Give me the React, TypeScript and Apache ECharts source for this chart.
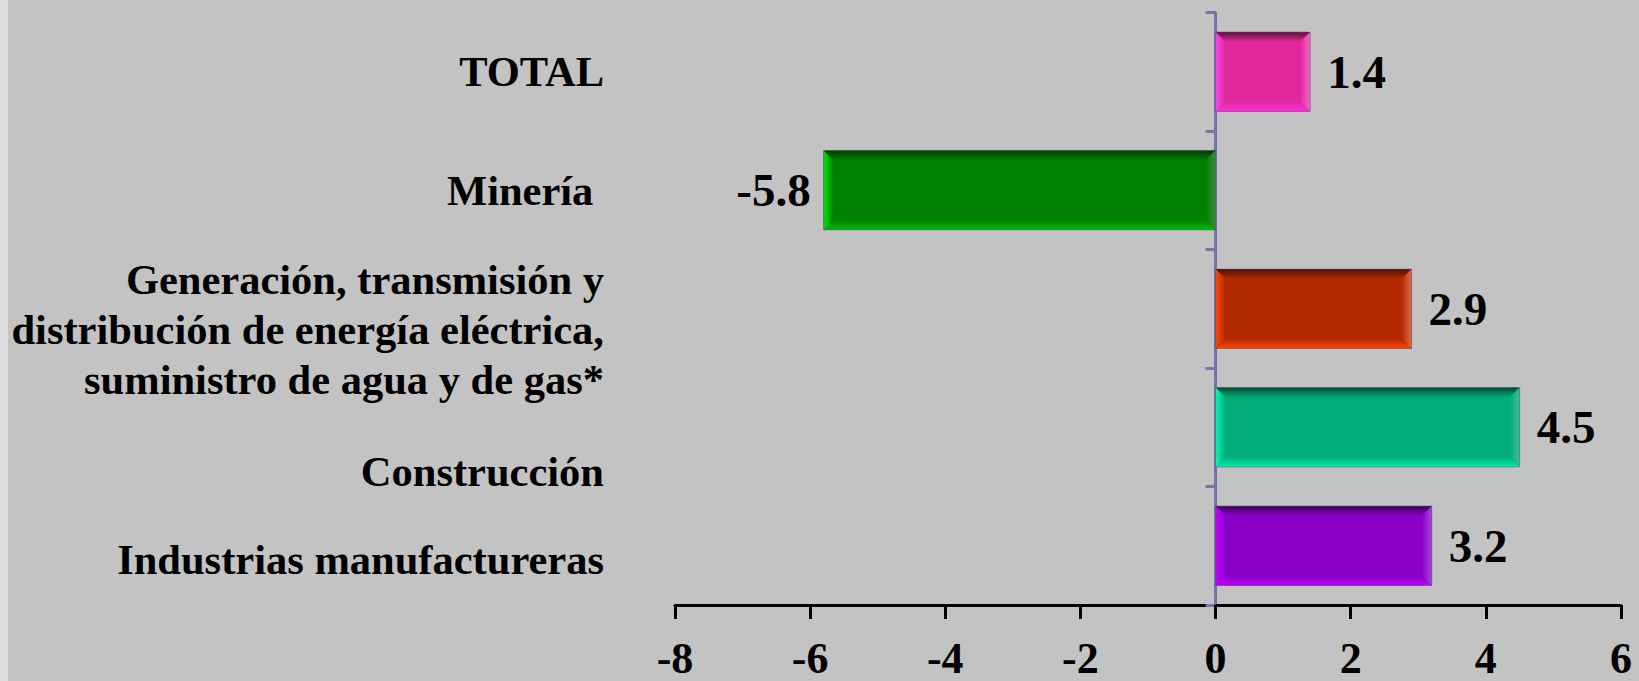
import React, { useEffect, useRef } from "react";
import * as echarts from "echarts";

// Bottom-to-top order (ECharts category axis grows upward)
const categories = [
  "Industrias manufactureras",
  "Construcción",
  "Generación, transmisión y\ndistribución de energía eléctrica,\nsuministro de agua y de gas*",
  "Minería ",
  "TOTAL",
];
const values = [3.2, 4.5, 2.9, -5.8, 1.4];
const xTicks = { min: -8, max: 6, interval: 2 };

const barColors = [
  { main: "#8a00c8", top: "#3c0055", left: "#c400ff", bottom: "#c000ff", right: "#a848d8" },
  { main: "#00ad78", top: "#004a33", left: "#00ffb8", bottom: "#00f0b0", right: "#40c094" },
  { main: "#b32a00", top: "#4a1000", left: "#ff4a00", bottom: "#ff4400", right: "#d8704c" },
  { main: "#008000", top: "#003a00", left: "#00e400", bottom: "#00c000", right: "#3c8a3c" },
  { main: "#e0289a", top: "#5e1040", left: "#ff44f0", bottom: "#ff30e0", right: "#f068c4" },
];
// downward offset of each category label (px) relative to its band centre
const labelShift = [14, 44, 21, 0, 0];

const SERIF = '"Liberation Serif", "Times New Roman", serif';

export default function App() {
  const ref = useRef<HTMLDivElement>(null);
  useEffect(() => {
    document.body.style.margin = "0";
    const chart = echarts.init(ref.current!, null, { renderer: "svg" });
    const grad = (c1: string, c2: string, horiz: boolean) =>
      new echarts.graphic.LinearGradient(0, 0, horiz ? 1 : 0, horiz ? 0 : 1, [
        { offset: 0, color: c1 },
        { offset: 1, color: c2 },
      ]);
    const rich: any = {
      t: { color: "#000", fontSize: 42.5, fontWeight: "bold", fontFamily: SERIF, lineHeight: 50, align: "right" },
    };
    labelShift.forEach((s, i) => {
      if (s > 0) rich["g" + i] = { fontSize: 10, lineHeight: 2 * s, align: "right" };
    });
    chart.setOption({
      animation: false,
      backgroundColor: "#c3c3c3",
      graphic: [
        { type: "rect", left: 0, top: 0, shape: { x: 0, y: 0, width: 8, height: 681 }, style: { fill: "#dddddd" }, silent: true },
      ],
      grid: { left: 675, right: 18, top: 12.5, bottom: 76, containLabel: false },
      xAxis: {
        type: "value",
        min: xTicks.min,
        max: xTicks.max,
        interval: xTicks.interval,
        splitLine: { show: false },
        axisLine: { show: true, lineStyle: { color: "#000", width: 3 } },
        axisTick: { show: true, length: 14, lineStyle: { color: "#000", width: 3 } },
        axisLabel: { color: "#000", fontSize: 44, lineHeight: 44, fontWeight: "bold", fontFamily: SERIF, margin: 31 },
      },
      yAxis: [
        {
          type: "category",
          data: categories,
          axisLine: { show: false, onZero: false },
          axisTick: { show: false },
          axisLabel: {
            color: "#000",
            fontSize: 42.5,
            fontWeight: "bold",
            fontFamily: SERIF,
            lineHeight: 50,
            margin: 71,
            align: "right",
            formatter: (val: string, idx: number) => {
              const lines = val.split("\n").map((l) => `{t|${l}}`).join("\n");
              const s = labelShift[idx];
              if (s > 0) return `{g${idx}| }\n${lines}`;
              return lines;
            },
            rich,
          },
        },
        {
          type: "category",
          position: "left",
          data: categories,
          axisLine: { show: true, onZero: true, lineStyle: { color: "#7474aa", width: 3 } },
          axisTick: { show: true, length: 10, lineStyle: { color: "#7474aa", width: 3 } },
          axisLabel: { show: false },
        },
      ],
      series: [
        {
          type: "custom",
          xAxisIndex: 0,
          yAxisIndex: 0,
          encode: { x: 0, y: 1 },
          data: values.map((v, i) => [v, i]),
          z: 2,
          renderItem: (params: any, api: any) => {
            const v = api.value(0);
            const c = api.value(1);
            const p0 = api.coord([0, c]);
            const p1 = api.coord([v, c]);
            const h = api.size([0, 1])[1] * 0.67;
            const x0 = Math.min(p0[0], p1[0]);
            const x1 = Math.max(p0[0], p1[0]);
            const y0 = p0[1] - h / 2;
            const y1 = p0[1] + h / 2;
            const b = 10;
            const col = barColors[params.dataIndex];
            return {
              type: "group",
              children: [
                { type: "rect", shape: { x: x0, y: y0, width: x1 - x0, height: h }, style: { fill: col.main } },
                {
                  type: "polygon",
                  shape: { points: [[x0, y0], [x1, y0], [x1 - b, y0 + b], [x0 + b, y0 + b]] },
                  style: { fill: grad(col.top, col.main, false) },
                },
                {
                  type: "polygon",
                  shape: { points: [[x0, y1], [x1, y1], [x1 - b, y1 - b], [x0 + b, y1 - b]] },
                  style: { fill: grad(col.main, col.bottom, false) },
                },
                {
                  type: "polygon",
                  shape: { points: [[x0, y0], [x0 + b, y0 + b], [x0 + b, y1 - b], [x0, y1]] },
                  style: { fill: grad(col.left, col.main, true) },
                },
                {
                  type: "polygon",
                  shape: { points: [[x1, y0], [x1, y1], [x1 - b, y1 - b], [x1 - b, y0 + b]] },
                  style: { fill: grad(col.main, col.right, true) },
                },
                {
                  type: "rect",
                  shape: { x: x0, y: y0, width: x1 - x0, height: h },
                  style: { fill: "none", stroke: "rgba(90,90,130,0.55)", lineWidth: 1 },
                },
              ],
            };
          },
        },
        {
          type: "bar",
          xAxisIndex: 0,
          yAxisIndex: 1,
          barWidth: "67%",
          z: 3,
          itemStyle: { color: "rgba(0,0,0,0)" },
          data: values.map((v) => ({
            value: v,
            label: { position: v < 0 ? "left" : "right", distance: v < 0 ? 13 : 17 },
          })),
          label: {
            show: true,
            color: "#000",
            fontSize: 47,
            fontWeight: "bold",
            fontFamily: SERIF,
            formatter: (p: any) => p.value.toFixed(1),
          },
        },
      ],
    });
    return () => chart.dispose();
  }, []);
  return <div ref={ref} style={{ position: "absolute", left: 0, top: 0, width: 1639, height: 681 }} />;
}
